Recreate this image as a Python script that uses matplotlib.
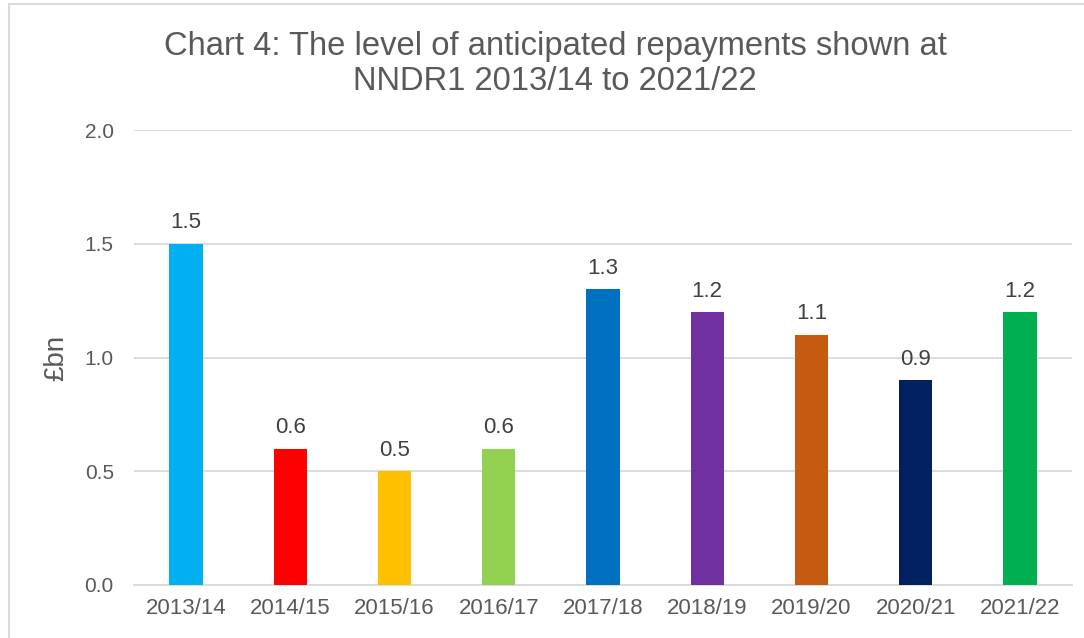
import matplotlib
matplotlib.use("Agg")
import matplotlib.pyplot as plt
from matplotlib.patches import Rectangle

plt.rcParams["font.family"] = ["Liberation Sans", "DejaVu Sans"]

years = ["2013/14", "2014/15", "2015/16", "2016/17", "2017/18",
         "2018/19", "2019/20", "2020/21", "2021/22"]
repayments = [1.5, 0.6, 0.5, 0.6, 1.3, 1.2, 1.1, 0.9, 1.2]
bar_colors = ["#00B0F0", "#FF0000", "#FFC000", "#92D050", "#0070C0",
              "#7030A0", "#C55A11", "#002060", "#00B050"]
yticks = [0.0, 0.5, 1.0, 1.5, 2.0]

TEXT = "#595959"
GRID = "#D9D9D9"

fig = plt.figure(figsize=(10.84, 6.38), dpi=100)
ax = fig.add_axes([134 / 1084, 1 - 585 / 638, (1072 - 134) / 1084, (585 - 130) / 638])

# chart frame
fig.patches.append(Rectangle((9 / 1084, -0.05), 1.1, 1 - 4 / 638 + 0.05,
                             transform=fig.transFigure, fill=False,
                             edgecolor=GRID, linewidth=1.5))

x = list(range(len(years)))
ax.bar(x, repayments, width=0.32, color=bar_colors, zorder=3)
for xi, v in zip(x, repayments):
    ax.annotate(f"{v:.1f}", (xi, v), xytext=(0, 7.5), textcoords="offset points",
                ha="center", va="bottom", fontsize=16, color="#404040")

ax.set_xlim(-0.5, len(years) - 0.5)
ax.set_ylim(0, 2.0)
ax.set_yticks(yticks)
ax.set_yticklabels([f"{t:.1f}" for t in yticks])
ax.set_xticks(x)
ax.set_xticklabels(years)
ax.tick_params(axis="both", length=0, colors=TEXT)
ax.tick_params(axis="y", pad=14.5, labelsize=15)
ax.tick_params(axis="x", pad=9, labelsize=16)
ax.grid(axis="y", color=GRID, linewidth=1.3, zorder=0)
for side in ["top", "right", "left"]:
    ax.spines[side].set_visible(False)
ax.spines["bottom"].set_color(GRID)
ax.spines["bottom"].set_linewidth(1.3)

fig.text(56 / 1084, 1 - 358 / 638, "£bn", rotation=90, ha="center", va="center",
         fontsize=20, color=TEXT)
fig.text(555 / 1084, 1 - 64 / 638,
         "Chart 4: The level of anticipated repayments shown at\nNNDR1 2013/14 to 2021/22",
         ha="center", va="center", fontsize=23.6, color=TEXT, linespacing=1.15)

fig.savefig("out.png", dpi=100, facecolor="white")
